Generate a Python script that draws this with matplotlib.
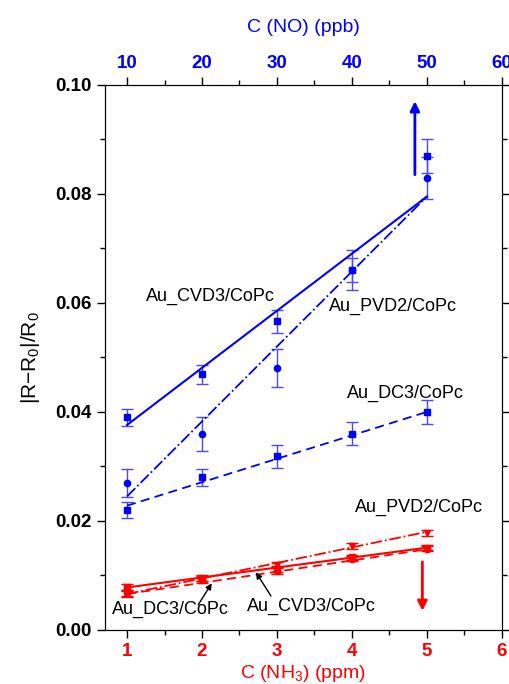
import numpy as np
import matplotlib
matplotlib.use('Agg')
from matplotlib import pyplot as plt

plt.rcParams['font.family'] = ['Liberation Sans', 'DejaVu Sans']
plt.rcParams['mathtext.default'] = 'regular'

# NO concentrations (top axis, ppb) and NH3 concentrations (bottom axis, ppm)
no_conc = [10, 20, 30, 40, 50]
nh3_conc = [1, 2, 3, 4, 5]

# NO response (blue)
no_cvd3 = [0.0390, 0.0469, 0.0566, 0.0660, 0.0869]
no_cvd3_err = [0.0015, 0.0017, 0.0021, 0.0037, 0.0031]
no_pvd2 = [0.0270, 0.0360, 0.0480, 0.0660, 0.0829]
no_pvd2_err = [0.0026, 0.0031, 0.0035, 0.0022, 0.0039]
no_dc3 = [0.0220, 0.0280, 0.0319, 0.0360, 0.0400]
no_dc3_err = [0.0015, 0.0016, 0.0021, 0.0021, 0.0022]

# NH3 response (red)
nh3_cvd3 = [0.0078, 0.0094, 0.0112, 0.0133, 0.0151]
nh3_dc3 = [0.0067, 0.0092, 0.0109, 0.0131, 0.0149]
nh3_pvd2 = [0.0068, 0.0095, 0.0119, 0.0154, 0.0178]
nh3_err = [0.0006, 0.0005, 0.0006, 0.0005, 0.0005]

# linear fit lines, end points
fit_x_no = [10, 50]
fit_no_cvd3 = [0.0376, 0.0795]
fit_no_pvd2 = [0.0245, 0.0795]
fit_no_dc3 = [0.0228, 0.0400]
fit_x_nh3 = [1, 5]
fit_nh3_cvd3 = [0.0078, 0.0151]
fit_nh3_dc3 = [0.0066, 0.0148]
fit_nh3_pvd2 = [0.0066, 0.0180]

blue = '#0000ff'
red = '#ff0000'

fig = plt.figure(figsize=(5.1, 6.84), dpi=100)
ax = fig.add_axes([0.205, 0.079, 0.779, 0.797])
ax2 = ax.twiny()

eb = dict(capsize=4, elinewidth=1, capthick=1, linestyle='none')

# blue series on top axis
ax2.errorbar(no_conc, no_cvd3, yerr=no_cvd3_err, marker='s', ms=4.5, color=blue, ecolor='#4a4aff', **eb)
ax2.errorbar(no_conc, no_pvd2, yerr=no_pvd2_err, marker='o', ms=4.5, color=blue, ecolor='#4a4aff', **eb)
ax2.errorbar(no_conc, no_dc3, yerr=no_dc3_err, marker='s', ms=4.5, color=blue, ecolor='#4a4aff', **eb)
ax2.plot(fit_x_no, fit_no_cvd3, '-', color=blue, lw=1.5)
ax2.plot(fit_x_no, fit_no_pvd2, '-.', color=blue, lw=1.3)
ax2.plot(fit_x_no, fit_no_dc3, '--', color=blue, lw=1.3, dashes=(5, 3))

# red series on bottom axis
ax.errorbar(nh3_conc, nh3_cvd3, yerr=nh3_err, marker='s', ms=4.5, color=red, **eb)
ax.errorbar(nh3_conc, nh3_dc3, yerr=nh3_err, marker='o', ms=4.5, color=red, **eb)
ax.errorbar(nh3_conc, nh3_pvd2, yerr=nh3_err, marker='v', ms=5, color=red, **eb)
ax.plot(fit_x_nh3, fit_nh3_cvd3, '-', color=red, lw=1.5)
ax.plot(fit_x_nh3, fit_nh3_dc3, '--', color=red, lw=1.3, dashes=(5, 3))
ax.plot(fit_x_nh3, fit_nh3_pvd2, '-.', color=red, lw=1.3)

# direction arrows
ax.annotate('', xy=(4.84, 0.0975), xytext=(4.84, 0.0830),
            arrowprops=dict(arrowstyle='-|>', color=blue, lw=2, mutation_scale=14))
ax.annotate('', xy=(4.94, 0.0030), xytext=(4.94, 0.0130),
            arrowprops=dict(arrowstyle='-|>', color=red, lw=2, mutation_scale=14))

# labels
ax.text(1.25, 0.0611, 'Au_CVD3/CoPc', fontsize=13, va='center')
ax.text(3.69, 0.0593, 'Au_PVD2/CoPc', fontsize=13, va='center')
ax.text(3.93, 0.0434, 'Au_DC3/CoPc', fontsize=13, va='center')
ax.text(4.04, 0.0224, 'Au_PVD2/CoPc', fontsize=13, va='center')
ax.text(0.80, 0.0037, 'Au_DC3/CoPc', fontsize=13, va='center')
ax.text(2.60, 0.0043, 'Au_CVD3/CoPc', fontsize=13, va='center')
ax.annotate('', xy=(2.15, 0.0090), xytext=(1.93, 0.0042),
            arrowprops=dict(arrowstyle='-|>', color='black', lw=1, mutation_scale=9))
ax.annotate('', xy=(2.70, 0.0110), xytext=(2.94, 0.0058),
            arrowprops=dict(arrowstyle='-|>', color='black', lw=1, mutation_scale=9))

ax.set_xlim(0.7, 6)
ax2.set_xlim(7, 60)
ax.set_ylim(0, 0.10)
ax.set_xticks([1, 2, 3, 4, 5, 6])
ax.set_xticks(np.arange(1.5, 6, 1), minor=True)
ax2.set_xticks([10, 20, 30, 40, 50, 60])
ax2.set_xticks(np.arange(15, 60, 10), minor=True)
ax.set_yticks(np.arange(0, 0.101, 0.02))
ax.set_yticks(np.arange(0.01, 0.1, 0.02), minor=True)
ax.yaxis.set_major_formatter(matplotlib.ticker.FormatStrFormatter('%.2f'))

ax.tick_params(axis='x', which='both', direction='out', colors='black', labelcolor=red,
               labelsize=13.5)
ax.tick_params(axis='y', which='both', direction='out', right=True, labelsize=13.5)
ax2.tick_params(axis='x', which='both', direction='out', colors='black', labelcolor=blue,
                labelsize=13.5)
for a in (ax, ax2):
    a.tick_params(which='major', length=6, width=1)
    a.tick_params(which='minor', length=3.5, width=1)
for lab in ax.get_xticklabels() + ax.get_yticklabels() + ax2.get_xticklabels():
    lab.set_fontweight('bold')

ax.set_xlabel('C (NH$_3$) (ppm)', color=red, fontsize=14, labelpad=2)
ax2.set_xlabel('C (NO) (ppb)', color=blue, fontsize=14, labelpad=16)
ax.set_ylabel('|R$-$R$_0$|/R$_0$', fontsize=15, labelpad=9)

fig.savefig('out.png', dpi=100)
